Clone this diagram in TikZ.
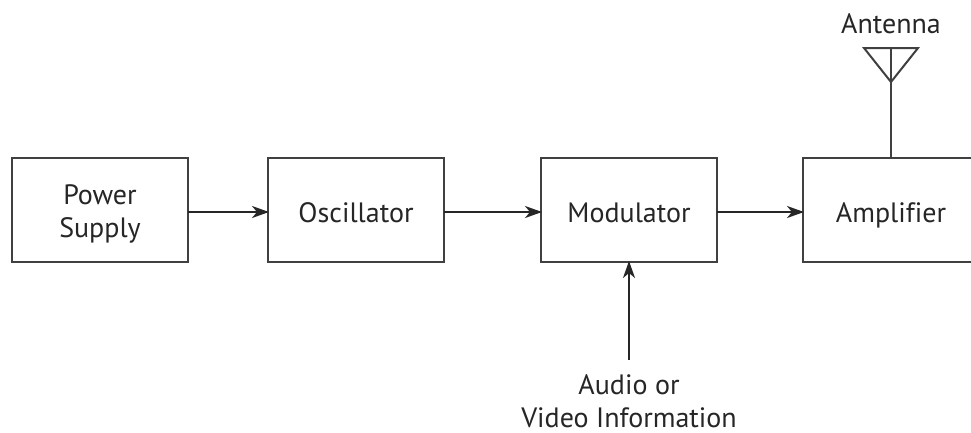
\documentclass[tikz,border=0pt]{standalone}
\usepackage{fontspec}
\setmainfont[RawFeature={-liga}]{PT Sans}
\usetikzlibrary{arrows.meta}
\newcommand{\onestrut}{\rule[-6pt]{0pt}{36pt}}
\newcommand{\topstrut}{\rule{0pt}{27pt}}
\newcommand{\botstrut}{\rule[-6pt]{0pt}{6pt}}
\tikzset{
 lbl/.style={align=center,inner sep=0pt,text=black!85,font=\fontsize{28pt}{33pt}\selectfont},
 blockbox/.style={lbl,draw=black!75,line width=2.4pt,minimum height=104pt,minimum width=176pt,anchor=north west,outer sep=0pt},
 conn/.style={draw=black!85,line width=1.8pt,-{Stealth[length=17pt,width=12pt,inset=5pt]},shorten >=-1pt},
 ant/.style={draw=black!75,line width=2pt}
}
\begin{document}
\begin{tikzpicture}[x=1pt,y=-1pt]
\useasboundingbox (0,0) rectangle (971,432);
\fill[white] (0,0) rectangle (971,432);
\node[blockbox] (ps) at (12,158) {\topstrut Power\\\botstrut Supply};
\node[blockbox] (os) at (268,158) {\onestrut Oscillator};
\node[blockbox] (mo) at (541,158) {\onestrut Modulator};
\node[blockbox] (am) at (803,158) {\onestrut Amplifier};
\draw[conn] ([yshift=-2pt]ps.east) -- ([yshift=-2pt]os.west);
\draw[conn] ([yshift=-2pt]os.east) -- ([yshift=-2pt]mo.west);
\draw[conn] ([yshift=-2pt]mo.east) -- ([yshift=-2pt]am.west);
\node[lbl] (audio) at (629,401) {Audio or\\Video Information};
\coordinate (avtop) at (629,360);
\draw[conn] (avtop) -- (mo.south);
\node[lbl] (an) at (891,24) {Antenna};
\coordinate (apex) at (891,82);
\coordinate (tl) at (864,48);
\coordinate (tr) at (918,48);
\coordinate (tm) at (891,48);
\coordinate (amtop) at (891,158);
\draw[ant] (tl) -- (tr) -- (apex) -- cycle;
\draw[ant] (tm) -- (amtop);
\end{tikzpicture}
\end{document}
